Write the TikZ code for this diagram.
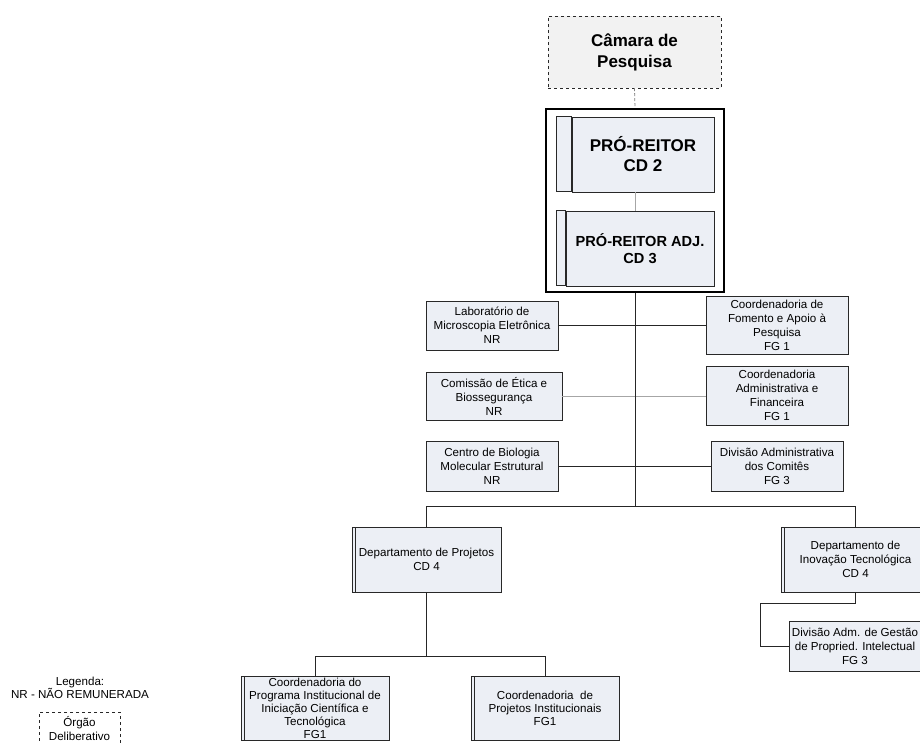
\documentclass[tikz,border=0pt]{standalone}
\usepackage{fontspec}
\setmainfont{Liberation Sans}
\usepackage{xcolor}
\usepackage{tikz}

\definecolor{boxfill}{RGB}{236,239,245}
\definecolor{chamberfill}{RGB}{242,242,242}
\definecolor{boxline}{RGB}{40,40,40}

\begin{document}
\begin{tikzpicture}[x=1pt, y=-1pt,
        unit/.style={rectangle, draw=boxline, fill=boxfill, line width=0.9pt, inner sep=0pt, align=center, font=\fontsize{11.6}{14}\selectfont},
        dept/.style={unit, path picture={\draw[boxline, line width=0.8pt] ([xshift=3pt]path picture bounding box.north west) -- ([xshift=3pt]path picture bounding box.south west);}},
        link/.style={line width=1pt, black!85},
        faint/.style={line width=1pt, gray!70}]
        \clip (0,0) rectangle (920,742);

        % top of the chart
        \node (camara) [rectangle, draw=boxline, dashed, fill=chamberfill, minimum width=173, minimum height=72, align=center, font=\fontsize{17}{21}\selectfont\bfseries] at (634.5,52) {Câmara de\\Pesquisa};
        \node (frame) [rectangle, draw, line width=2pt, minimum width=178, minimum height=183] at (635,200.5) {};
        \node (pr) [unit, minimum width=142, minimum height=75, font=\fontsize{17}{20}\selectfont\bfseries] at (643,154.5) {PRÓ-REITOR\\CD 2};
        \draw [draw=boxline, fill=boxfill, line width=0.9pt] (pr.north west) rectangle ++(-15,75);
        \node (pra) [unit, minimum width=148, minimum height=75, font=\fontsize{14.6}{17}\selectfont\bfseries] at (640,248.5) {PRÓ-REITOR ADJ.\\CD 3};
        \draw [draw=boxline, fill=boxfill, line width=0.9pt] (pra.north west) rectangle ++(-9,75);

        \draw [densely dashed, gray, line width=0.8pt] (camara.south) -- (frame.north);
        \draw [faint] (pr.south -| frame.north) -- (pra.north -| frame.north);

        % staff units
        \node (lab) [unit, minimum width=132, minimum height=49] at (492,325.5) {Laboratório de\\Microscopia Eletrônica\\NR};
        \node (etica) [unit, minimum width=136, minimum height=48] at (494,396) {Comissão de Ética e\\Biossegurança\\NR};
        \node (centro) [unit, minimum width=132, minimum height=50] at (492,466) {Centro de Biologia\\Molecular Estrutural\\NR};
        \node (fomento) [unit, minimum width=142, minimum height=58] at (777,325) {Coordenadoria de\\Fomento e Apoio à\\Pesquisa\\FG 1};
        \node (admfin) [unit, minimum width=142, minimum height=59] at (777,395.5) {Coordenadoria\\Administrativa e\\Financeira\\FG 1};
        \node (comites) [unit, minimum width=132, minimum height=50] at (777,466) {Divisão Administrativa\\dos Comitês\\FG 3};

        \draw [link] (lab.east) -- (lab.east -| fomento.west);
        \draw [faint] (etica.east) -- (etica.east -| admfin.west);
        \draw [link] (centro.east) -- (comites.west);

        % departments
        \node (depproj) [dept, minimum width=149, minimum height=65] at (426.5,559.5) {Departamento de Projetos\\CD 4};
        \node (depinov) [dept, minimum width=149, minimum height=65] at (855.5,559.5) {Departamento de\\Inovação Tecnológica\\CD 4};
        \node (gestao) [unit, minimum width=132, minimum height=50] at (855,646) {Divisão Adm. de Gestão\\de Propried. Intelectual\\FG 3};

        \path (frame.south |- depproj.north) ++(0,-20) coordinate (hub);
        \draw [link] (frame.south) -- (hub);
        \draw [link] (depproj.north) |- (hub) -| (depinov.north);
        \draw [link] (depinov.south) -- ++(0,11) -| ([xshift=-28pt]gestao.west) -- (gestao.west);

        \node (programa) [dept, minimum width=148, minimum height=64, font=\fontsize{11.6}{13}\selectfont] at (315,708) {Coordenadoria do\\Programa Institucional de\\Iniciação Científica e\\Tecnológica\\FG1};
        \node (projinst) [dept, minimum width=148, minimum height=64, font=\fontsize{11.6}{13}\selectfont] at (545,708) {Coordenadoria~ de\\Projetos Institucionais\\FG1};

        \path (depproj.south) ++(0,64) coordinate (fork);
        \draw [link] (depproj.south) -- (fork);
        \draw [link] (programa.north) |- (fork) -| (projinst.north);

        % legend
        \node (legend) [align=center, inner sep=0pt, font=\fontsize{11.6}{13}\selectfont] at (80,688) {Legenda:\\NR - NÃO REMUNERADA};
        \node (orgao) [rectangle, draw=boxline, dashed, line width=0.8pt, minimum width=81, minimum height=34, inner sep=0pt, align=center, font=\fontsize{11.6}{14}\selectfont] at (79.5,729) {Órgão\\Deliberativo};
    \end{tikzpicture}
\end{document}
